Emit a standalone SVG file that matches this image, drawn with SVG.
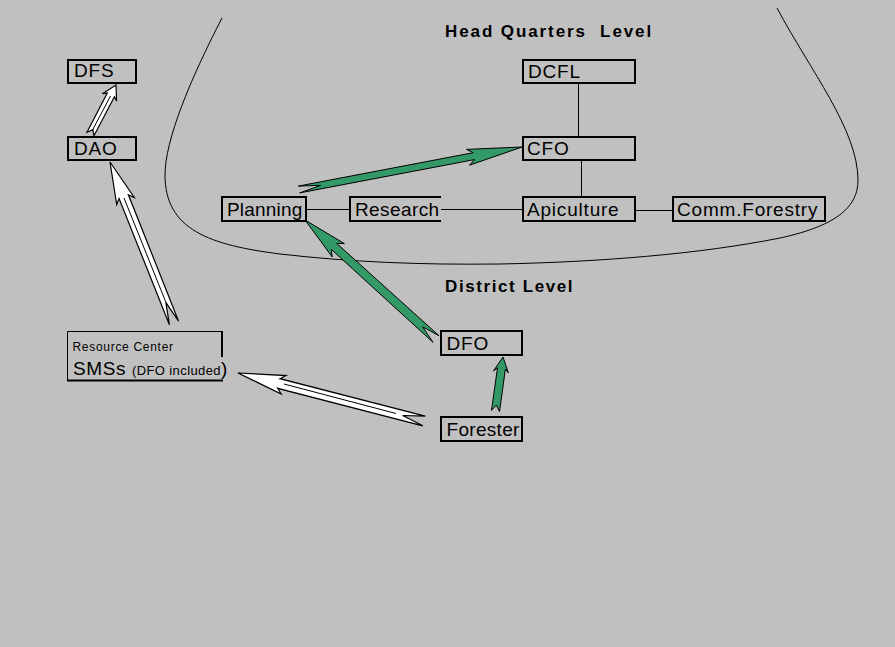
<svg xmlns="http://www.w3.org/2000/svg" width="895" height="647" viewBox="0 0 895 647">
<style>
.box{fill:none;stroke:#000;stroke-width:2}
.t{font-family:"Liberation Sans",Arial,sans-serif;font-size:19px;letter-spacing:0.8px;fill:#000}
.h{font-family:"Liberation Sans",Arial,sans-serif;font-size:17px;font-weight:bold;letter-spacing:1.9px;fill:#000;white-space:pre}
.ln{stroke:#000;stroke-width:1;fill:none}
.g{fill:#339966;stroke:#000;stroke-width:1;stroke-linejoin:miter}
.w{fill:#fff;stroke:#000;stroke-width:1.2;stroke-linejoin:miter}
</style>
<rect width="895" height="647" fill="#c0c0c0"/>
<path class="ln" d="M222,18 C190,80 165,140 165,175 C165,230 210,245 280,254 C350,262 420,265 500,264 C600,262 700,254 780,238 C840,225 858,205 858,180 C858,130 810,70 777,8"/>
<text class="h" x="445" y="37" xml:space="preserve">Head Quarters  Level</text>
<text class="h" x="445" y="292" style="letter-spacing:1.6px">District Level</text>
<g id="connectors">
<line class="ln" x1="578.5" y1="84" x2="578.5" y2="136"/>
<line class="ln" x1="581.5" y1="161" x2="581.5" y2="196"/>
<line class="ln" x1="307" y1="209.5" x2="349" y2="209.5"/>
<line class="ln" x1="441" y1="209.5" x2="522" y2="209.5"/>
<line class="ln" x1="636" y1="210.5" x2="672" y2="210.5"/>
<polygon class="g" points="522,147 469.5,165.2 474.5,159.6 299.7,192.9 320.6,185.4 298.3,186.1 473.2,152.7 466.5,149.4"/>
<polygon class="g" points="305,220 344.4,243.6 336.6,243.3 439,335.7 422.7,326.9 433,342.3 331.2,249.3 332.3,257"/>
<polygon class="g" points="503,357 508.4,372.9 505.4,369 499.5,411.6 496.3,405.1 491.5,410.4 497.5,367.9 493.5,370.9"/>
<polygon class="w" points="238,373 286,375.6 280,378.7 425.2,416.2 402.7,415.5 422.8,425.8 277.6,388.3 281.2,394"/>
<line class="ln" x1="396" y1="413.5" x2="284" y2="384"/>
<polygon class="w" points="110,162 134.3,197.5 128.4,194.8 178.6,321.2 165.9,302.6 169.4,324.8 119.1,198.5 116.7,204.5"/>
<line class="ln" x1="167" y1="305" x2="124" y2="198"/>
<polygon class="w" points="116,85 116.6,101.1 114.4,96.8 94,135.8 92.8,129.6 87,132.2 107.3,93.1 102.4,93.7"/>
<line class="ln" x1="92.5" y1="130" x2="110.5" y2="96"/>
</g>
<g id="DFS"><rect class="box" x="68" y="60" width="68" height="23"/><text class="t" x="74" y="77">DFS</text></g>
<g id="DAO"><rect class="box" x="68" y="137" width="68" height="23"/><text class="t" x="74" y="155">DAO</text></g>
<g id="DCFL"><rect class="box" x="523" y="60" width="112" height="23"/><text class="t" x="528" y="78">DCFL</text></g>
<g id="CFO"><rect class="box" x="523" y="137" width="112" height="23"/><text class="t" x="527" y="155">CFO</text></g>
<g id="Apiculture"><rect class="box" x="523" y="197" width="112" height="24"/><text class="t" x="527" y="215.5">Apiculture</text></g>
<g id="Planning"><rect class="box" x="222" y="197" width="84" height="24"/><text class="t" x="227" y="215.5" style="letter-spacing:0.2px">Planning</text></g>
<g id="Research"><path class="box" d="M441,197 H350 V221 H441"/><text class="t" x="355" y="215.5" style="letter-spacing:0.4px">Research</text></g>
<g id="CommForestry"><rect class="box" x="673" y="197" width="152" height="24"/><text class="t" x="677" y="215.5">Comm.Forestry</text></g>
<g id="DFO"><rect class="box" x="441" y="331" width="81" height="24"/><text class="t" x="446.5" y="350">DFO</text></g>
<g id="Forester"><rect class="box" x="441" y="417" width="81" height="24"/><text class="t" x="446.5" y="435.5" style="letter-spacing:0.3px">Forester</text></g>
<g id="ResourceCenter">
<path d="M67.5,381 V331.5 H222" fill="none" stroke="#000" stroke-width="1"/>
<path d="M222,331 V357 M67,380.5 H223" fill="none" stroke="#000" stroke-width="2"/>
<text x="72.5" y="351" style="font-family:'Liberation Sans',Arial,sans-serif;font-size:12px;letter-spacing:0.7px">Resource Center</text>
<text x="73" y="375" style="font-family:'Liberation Sans',Arial,sans-serif;font-size:19px;letter-spacing:0.6px">SMSs <tspan style="font-size:13px;letter-spacing:0.4px">(DFO included</tspan><tspan style="font-size:19px">)</tspan></text>
</g>
</svg>
